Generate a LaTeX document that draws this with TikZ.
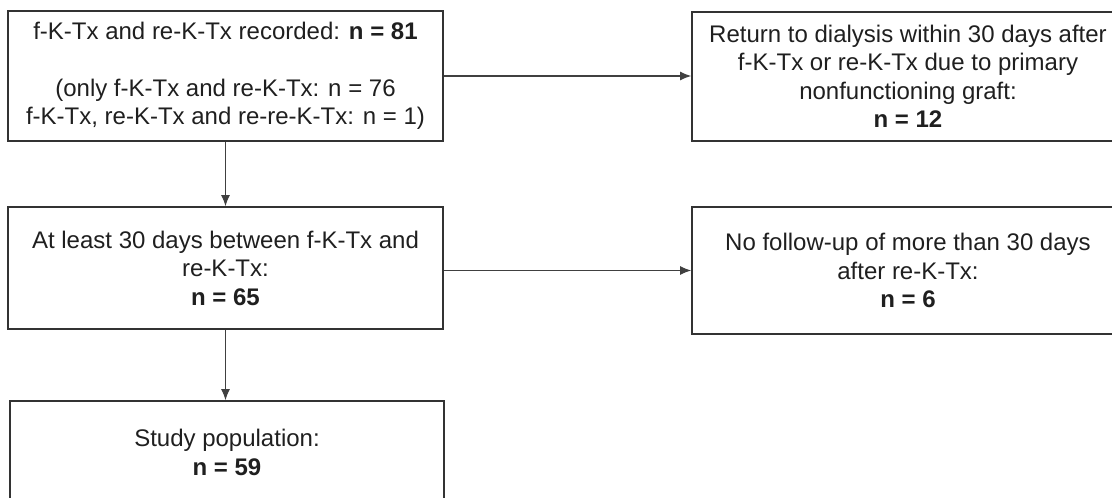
\documentclass[tikz,border=0pt]{standalone}
\usepackage{fontspec}
\setmainfont{Liberation Sans}
\usetikzlibrary{arrows.meta}
\begin{document}
\begin{tikzpicture}[x=1pt,y=-1pt,
  box/.style={draw=black!80, line width=1.6pt, align=center,
    font=\fontsize{24}{28.5}\selectfont, text=black!88, inner sep=0pt},
  conn/.style={draw=black!75, line width=1.2pt, -{Latex[length=11pt,width=9pt]}}]
\useasboundingbox (0,0) rectangle (1112,498);
\clip (0,0) rectangle (1112,498);
\node[box, minimum width=435pt, minimum height=130pt] (a) at (225.5,76)
  {f-K-Tx and re-K-Tx recorded: \textbf{n = 81}\\[28.5pt]
   (only f-K-Tx and re-K-Tx: n = 76\\
   f-K-Tx, re-K-Tx and re-re-K-Tx: n = 1)};
\node[box, minimum width=432pt, minimum height=129pt] (r1) at (908,76.5)
  {Return to dialysis within 30 days after\\
   f-K-Tx or re-K-Tx due to primary\\
   nonfunctioning graft:\\
   \textbf{n = 12}};
\node[box, minimum width=435pt, minimum height=122pt] (b) at (225.5,268)
  {At least 30 days between f-K-Tx and\\
   re-K-Tx:\\
   \textbf{n = 65}};
\node[box, minimum width=432pt, minimum height=127pt] (r2) at (908,270.5)
  {No follow-up of more than 30 days\\
   after re-K-Tx:\\
   \textbf{n = 6}};
\node[box, minimum width=434pt, minimum height=103pt] (c) at (227,452.5)
  {Study population:\\
   \textbf{n = 59}};
\draw[conn] (a.east) -- (a.east -| r1.west);
\draw[conn] (r2.west -| b.east) -- (r2.west);
\draw[conn] (a.south) -- (a.south |- b.north);
\draw[conn] (b.south) -- (b.south |- c.north);
\end{tikzpicture}
\end{document}
